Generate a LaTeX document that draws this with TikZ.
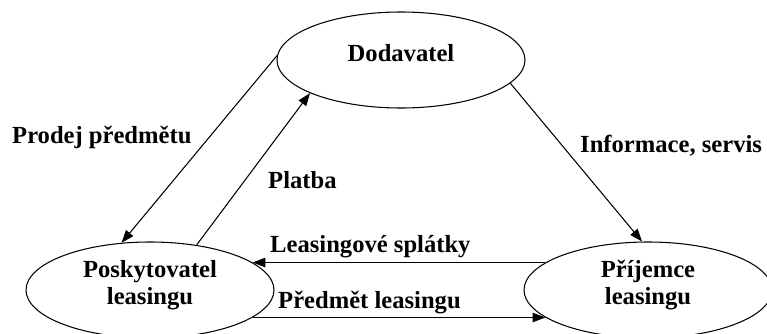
\documentclass[tikz,border=0pt]{standalone}
\usepackage{fontspec}
\setmainfont{Liberation Serif}
\usetikzlibrary{shapes.geometric,arrows.meta}
\begin{document}
\begin{tikzpicture}[
        x=0.03cm, y=-0.03cm,
        party/.style={draw, ellipse, line width=0.9pt, minimum width=248*0.03cm,
          minimum height=96*0.03cm, inner sep=0pt, align=center, text depth=0.45cm},
        flow/.style={draw, line width=0.9pt, -{Triangle[length=3.8mm,width=2.8mm]}},
        tag/.style={anchor=base west, inner sep=0pt},
        every node/.style={font=\fontsize{21}{23}\selectfont\bfseries}
      ]
      \useasboundingbox (0,0) rectangle (767,333);
      \node[party] (dod) at (401,60) {Dodavatel};
      \node[party] (posk) at (150,290) {Poskytovatel\\leasingu};
      \node[party] (prij) at (648,290) {Příjemce\\leasingu};
      \draw[flow] (dod.178) -- (posk.121);
      \draw[flow] (posk.44) -- (dod.200);
      \draw[flow] (dod.-12) -- (prij.97);
      \draw[flow] (prij.165) -- (posk.15);
      \draw[flow] (posk.-15) -- (prij.195);
      \node[tag] (prodej) at (12,143) {Prodej předmětu};
      \node[tag] (platba) at (268,188) {Platba};
      \node[tag] (info) at (580,152) {Informace, servis};
      \node[tag] (splatky) at (270,252) {Leasingové splátky};
      \node[tag] (predmet) at (278,308) {Předmět leasingu};
\end{tikzpicture}
\end{document}
